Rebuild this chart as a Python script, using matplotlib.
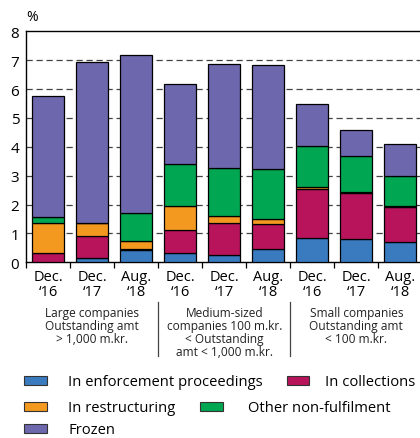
import matplotlib
matplotlib.use("Agg")
import matplotlib.pyplot as plt
from matplotlib.patches import Rectangle
import numpy as np

plt.rcParams['font.family'] = ['Open Sans', 'DejaVu Sans']

tick_labels = ["Dec.\n\u201816", "Dec.\n\u201817", "Aug.\n\u201818"] * 3
group_labels = ["Large companies\nOutstanding amt\n> 1,000 m.kr.",
                "Medium-sized\ncompanies 100 m.kr.\n< Outstanding\namt < 1,000 m.kr.",
                "Small companies\nOutstanding amt\n< 100 m.kr."]
series_names = ["In enforcement proceedings", "In collections", "In restructuring",
                "Other non-fulfilment", "Frozen"]
colors = ["#3A7BBF", "#B8145B", "#F3991F", "#00A651", "#6D67AD"]

enforcement = [0.02, 0.16, 0.43, 0.31, 0.24, 0.45, 0.83, 0.81, 0.72]
collections = [0.29, 0.74, 0.02, 0.82, 1.12, 0.87, 1.70, 1.58, 1.20]
restructuring = [1.04, 0.45, 0.28, 0.83, 0.23, 0.17, 0.08, 0.06, 0.02]
other = [0.21, 0.02, 0.97, 1.43, 1.67, 1.73, 1.43, 1.23, 1.04]
frozen = [4.19, 5.58, 5.47, 2.80, 3.60, 3.61, 1.45, 0.89, 1.12]
series = [enforcement, collections, restructuring, other, frozen]

fig = plt.figure(figsize=(4.2, 4.39), dpi=100)
ax = fig.add_axes([26.3/420, 1-263.3/439, 396/420, (263.3-32.3)/439])

x = np.arange(len(tick_labels))
bottom = np.zeros(len(x))
for vals, c in zip(series, colors):
    ax.bar(x, vals, width=0.73, bottom=bottom, color=c, edgecolor="black",
           linewidth=0.9, zorder=3)
    bottom += np.array(vals)

ax.set_xlim(-0.5, 8.5)
ax.set_ylim(0, 8)
ax.set_yticks(range(0, 9))
ax.tick_params(axis='y', length=0, labelsize=11, pad=5)
for yv in range(1, 8):
    ax.axhline(yv, color="#444444", linestyle=(0, (5, 3)), linewidth=0.9, zorder=1)

ax.set_xticks(x)
ax.set_xticklabels(tick_labels, fontsize=10.5, linespacing=0.95)
ax.tick_params(axis='x', length=0, pad=5)
ax.set_xticks(np.arange(-0.5, 9, 1), minor=True)
ax.tick_params(axis='x', which='minor', length=4, width=0.9, direction='out')
for s in ax.spines.values():
    s.set_linewidth(1.0)

ax.text(0.0, 1.03, "%", transform=ax.transAxes, fontsize=10, ha='left', va='bottom')

# group labels and separators
group_centers = [1, 4, 7]
for gc, gl in zip(group_centers, group_labels):
    fig.text((26.3 + (gc + 0.5) * 44) / 420, 1 - 307/439, gl, ha='center', va='top',
             fontsize=8.6, linespacing=1.0, color="#222222")
for sx in [2.5, 5.5]:
    xp = (26.3 + (sx + 0.5) * 44) / 420
    fig.add_artist(plt.Line2D([xp, xp], [1 - 303/439, 1 - 357/439], color="#444444", lw=0.9))

# legend (flowing layout)
legend_items = [(0, 24, 381.7, 68.3), (1, 286.7, 381.7, 325),
                (2, 24, 407.3, 68.3), (3, 200, 407.3, 248.3),
                (4, 24, 429.5, 68.3)]
for idx, px, py, tx in legend_items:
    fig.add_artist(Rectangle((px/420, 1 - (py + 4.5)/439), 22.5/420, 9/439,
                             facecolor=colors[idx], edgecolor="#333333", lw=0.8,
                             transform=fig.transFigure))
    fig.text(tx/420, 1 - (py + 1)/439, series_names[idx], ha='left', va='center',
             fontsize=10.6)

fig.savefig("out.png", dpi=100)
